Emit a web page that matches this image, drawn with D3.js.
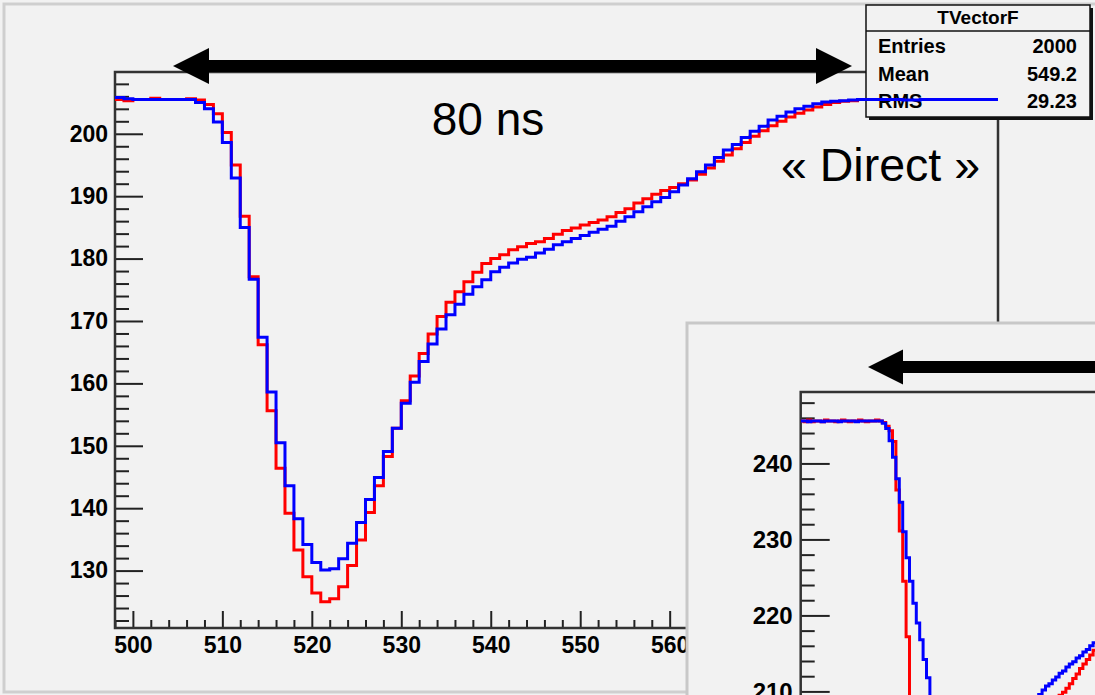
<!DOCTYPE html>
<html>
<head>
<meta charset="utf-8">
<script src="https://cdn.jsdelivr.net/npm/d3@7/dist/d3.min.js"></script>
<style>
  html, body { margin: 0; padding: 0; background: #f2f2f2; }
  svg { display: block; }
  .tick text { font-family: "Liberation Sans", Arial, sans-serif; font-weight: bold; fill: #000; }
</style>
</head>
<body>
<svg id="chart" width="1095" height="695"></svg>
<script>
// ---- main waveform: 1 ns bins, lower edges 498 ... 596 ----
const binStart = 498;
const redCounts = [
  205.5, 205.3, 205.5, 205.5, 205.7, 205.5, 205.5, 205.5, 205.6, 205.4,
  204.7, 203.2, 200.2, 195.0, 186.8, 177.1, 166.2, 155.6, 146.4, 139.2,
  133.3, 129.0, 126.4, 125.0, 125.5, 127.4, 130.8, 134.9, 139.3, 143.6,
  148.3, 152.8, 157.2, 161.2, 164.8, 167.9, 170.7, 173.0, 174.7, 176.3,
  177.8, 179.2, 180.0, 180.6, 181.4, 181.9, 182.4, 182.7, 183.2, 183.9,
  184.5, 184.9, 185.4, 185.8, 186.2, 186.7, 187.4, 188.0, 188.9, 189.6,
  190.3, 190.9, 191.4, 192.0, 192.6, 193.5, 194.5, 195.6, 196.6, 197.6,
  198.6, 199.6, 200.5, 201.3, 202.0, 202.7, 203.3, 203.8, 204.3, 204.7,
  205.0, 205.2, 205.3, 205.5, 205.5, 205.5, 205.5, 205.5, 205.5, 205.5,
  205.5, 205.5, 205.5, 205.5, 205.5, 205.5, 205.5, 205.5, 205.5
];
const blueCounts = [
  205.8, 205.6, 205.5, 205.5, 205.5, 205.5, 205.5, 205.5, 205.5, 205.0,
  204.0, 201.9, 198.6, 192.9, 185.0, 176.7, 167.4, 158.6, 150.5, 143.6,
  138.3, 134.2, 131.3, 130.1, 130.3, 131.9, 134.4, 137.7, 141.4, 144.9,
  149.1, 152.8, 156.8, 160.2, 163.5, 166.3, 168.7, 171.0, 172.7, 174.3,
  175.5, 176.6, 177.9, 178.6, 179.3, 179.9, 180.2, 180.9, 181.5, 182.2,
  182.7, 183.2, 183.7, 184.2, 184.7, 185.2, 186.0, 186.7, 187.5, 188.3,
  189.1, 189.8, 190.7, 191.8, 192.8, 193.9, 195.0, 196.2, 197.4, 198.3,
  199.4, 200.4, 201.2, 202.2, 202.8, 203.5, 204.0, 204.4, 204.8, 205.1,
  205.2, 205.3, 205.4, 205.5, 205.5, 205.5, 205.5, 205.5, 205.4, 205.4,
  205.5, 205.5, 205.5, 205.5, 205.5, 205.5, 205.5, 205.5, 205.5
];
const xTickValues = [500, 510, 520, 530, 540, 550, 560, 570, 580, 590];
const yTickValues = [130, 140, 150, 160, 170, 180, 190, 200];

// ---- statistics box ----
const statsTitle = "TVectorF";
const statsLabels = ["Entries", "Mean", "RMS"];
const statsValues = ["2000", "549.2", "29.23"];

// ---- annotations ----
const spanLabel = "80 ns";
const modeLabel = "« Direct »";

// ---- inset waveform (finer binning, index bins) ----
const insetRed = [
  245.6, 245.5, 245.7, 245.5, 245.6, 245.6, 245.5, 245.7, 245.6, 245.6,
  245.5, 245.6, 245.7, 245.6, 245.5, 245.6, 245.6, 245.7, 245.6, 245.5,
  245.6, 245.6, 245.7, 245.6, 245.4, 244.9, 244.3, 242.9, 236.5, 231.1,
  224.5, 217.2, 205.0, 196.0, 186.0, 177.0, 169.0, 163.0, 158.5, 155.5,
  154.0, 153.5, 154.5, 156.5, 159.5, 163.0, 167.0, 171.0, 175.0, 178.5,
  182.0, 185.0, 188.0, 190.5, 193.0, 195.0, 197.0, 198.6, 200.0, 201.2,
  202.3, 203.2, 204.0, 204.7, 205.3, 205.8, 206.3, 206.7, 207.1, 207.4,
  207.7, 208.0, 208.3, 208.6, 208.9, 209.2, 209.5, 209.9, 210.4, 211.0,
  211.7, 212.3, 213.0, 213.6, 214.2, 214.8, 215.4
];
const insetBlue = [
  245.6, 245.6, 245.5, 245.6, 245.6, 245.6, 245.5, 245.6, 245.6, 245.6,
  245.6, 245.5, 245.6, 245.6, 245.6, 245.6, 245.5, 245.6, 245.6, 245.6,
  245.6, 245.6, 245.6, 245.6, 245.3, 244.6, 243.0, 240.8, 238.0, 234.9,
  231.0, 227.6, 224.5, 221.6, 219.0, 216.8, 214.2, 211.8, 208.9, 205.6,
  202.0, 198.0, 193.0, 188.0, 183.0, 178.5, 175.0, 172.5, 171.0, 170.5,
  171.0, 172.5, 175.0, 178.0, 181.0, 184.0, 186.8, 189.3, 191.6, 193.8,
  195.8, 197.6, 199.3, 200.9, 202.4, 203.8, 205.1, 206.3, 207.5, 208.6,
  209.6, 210.2, 210.7, 211.0, 211.5, 211.9, 212.4, 212.7, 213.2, 213.6,
  213.9, 214.4, 214.7, 215.2, 215.5, 216.0, 216.4
];
const insetYTicks = [210, 220, 230, 240];

const svg = d3.select("#chart");
const W = 1095, H = 695;
const FONT = '"Liberation Sans", Arial, sans-serif';

// canvas
svg.append("rect").attr("x", 0).attr("y", 0).attr("width", W).attr("height", H).attr("fill", "#f2f2f2");
svg.append("rect").attr("x", 4).attr("y", 4).attr("width", W + 10).attr("height", H - 7)
  .attr("fill", "none").attr("stroke", "#cfcfcf").attr("stroke-width", 3);

// ---- main plot ----
const x = d3.scaleLinear().domain([498, 596.7]).range([115, 998]);
const y = d3.scaleLinear().domain([120.8, 209.9]).range([628, 72]);

const plot = svg.append("g");

// minor and major ticks (pointing inward)
const yMinor = d3.range(122, 210, 2).filter(v => v % 10 !== 0);
plot.append("g").attr("transform", `translate(${x.range()[0]},0)`)
  .call(d3.axisLeft(y).tickValues(yMinor).tickSize(-14).tickFormat(""))
  .call(g => g.select(".domain").remove())
  .call(g => g.selectAll("line").attr("stroke", "#222").attr("stroke-width", 2));
plot.append("g").attr("transform", `translate(${x.range()[0]},0)`)
  .call(d3.axisLeft(y).tickValues(yTickValues).tickSize(-28).tickPadding(7).tickFormat(d3.format("d")))
  .call(g => g.select(".domain").remove())
  .call(g => g.selectAll("line").attr("stroke", "#222").attr("stroke-width", 2))
  .call(g => g.selectAll("text").attr("font-size", 23).attr("font-family", FONT).attr("font-weight", "bold"));

const xMinor = d3.range(498, 597, 2).filter(v => v % 10 !== 0);
plot.append("g").attr("transform", `translate(0,${y.range()[0]})`)
  .call(d3.axisBottom(x).tickValues(xMinor).tickSize(-8).tickFormat(""))
  .call(g => g.select(".domain").remove())
  .call(g => g.selectAll("line").attr("stroke", "#222").attr("stroke-width", 2));
plot.append("g").attr("transform", `translate(0,${y.range()[0]})`)
  .call(d3.axisBottom(x).tickValues(xTickValues).tickSize(-17).tickPadding(9).tickFormat(d3.format("d")))
  .call(g => g.select(".domain").remove())
  .call(g => g.selectAll("line").attr("stroke", "#222").attr("stroke-width", 2))
  .call(g => g.selectAll("text").attr("font-size", 23).attr("font-family", FONT).attr("font-weight", "bold"));

// frame
plot.append("rect")
  .attr("x", x.range()[0]).attr("y", y.range()[1])
  .attr("width", x.range()[1] - x.range()[0]).attr("height", y.range()[0] - y.range()[1])
  .attr("fill", "none").attr("stroke", "#333").attr("stroke-width", 2.5);

// histogram step outlines
function stepPoints(counts, start) {
  const pts = counts.map((v, i) => [start + i, v]);
  pts.push([start + counts.length, counts[counts.length - 1]]);
  return pts;
}
const clipId = "mainClip";
svg.append("clipPath").attr("id", clipId).append("rect")
  .attr("x", x.range()[0]).attr("y", y.range()[1])
  .attr("width", x.range()[1] - x.range()[0]).attr("height", y.range()[0] - y.range()[1]);

const mainLine = d3.line().x(d => x(d[0])).y(d => y(d[1])).curve(d3.curveStepAfter);

plot.append("path").datum(stepPoints(redCounts, binStart))
  .attr("clip-path", `url(#${clipId})`)
  .attr("d", mainLine).attr("fill", "none").attr("stroke", "#ff0000").attr("stroke-width", 3);

// ---- double arrow "80 ns" ----
function arrowPath(x0, x1, cy, head, halfHead, halfShaft, both) {
  const p = [];
  p.push([x0, cy]);
  p.push([x0 + head, cy - halfHead]);
  p.push([x0 + head, cy - halfShaft]);
  if (both) {
    p.push([x1 - head, cy - halfShaft]);
    p.push([x1 - head, cy - halfHead]);
    p.push([x1, cy]);
    p.push([x1 - head, cy + halfHead]);
    p.push([x1 - head, cy + halfShaft]);
  } else {
    p.push([x1, cy - halfShaft]);
    p.push([x1, cy + halfShaft]);
  }
  p.push([x0 + head, cy + halfShaft]);
  p.push([x0 + head, cy + halfHead]);
  return "M" + p.map(q => q.join(",")).join("L") + "Z";
}
svg.append("path").attr("d", arrowPath(173, 852, 66, 36, 18, 6, true)).attr("fill", "#000");

svg.append("text").attr("x", 488).attr("y", 135).attr("text-anchor", "middle")
  .attr("font-family", FONT).attr("font-size", 46).attr("fill", "#000").text(spanLabel);

// ---- statistics box ----
const sb = svg.append("g");
const sbX = 866, sbY = 5, sbW = 224, sbH = 112;
sb.append("rect").attr("x", sbX + 3).attr("y", sbY + 3).attr("width", sbW).attr("height", sbH).attr("fill", "#111");
sb.append("rect").attr("x", sbX).attr("y", sbY).attr("width", sbW).attr("height", sbH)
  .attr("fill", "#f2f2f2").attr("stroke", "#111").attr("stroke-width", 1.5);
sb.append("line").attr("x1", sbX).attr("x2", sbX + sbW).attr("y1", 31).attr("y2", 31)
  .attr("stroke", "#111").attr("stroke-width", 1.5);
sb.append("text").attr("x", sbX + sbW / 2).attr("y", 24).attr("text-anchor", "middle")
  .attr("font-family", FONT).attr("font-weight", "bold").attr("font-size", 19).text(statsTitle);
statsLabels.forEach((lab, i) => {
  const yy = 53 + i * 27.5;
  sb.append("text").attr("x", sbX + 12).attr("y", yy).attr("font-family", FONT)
    .attr("font-weight", "bold").attr("font-size", 20).text(lab);
  sb.append("text").attr("x", sbX + sbW - 13).attr("y", yy).attr("text-anchor", "end")
    .attr("font-family", FONT).attr("font-weight", "bold").attr("font-size", 20).text(statsValues[i]);
});

// blue outline sits above the statistics box
svg.append("path").datum(stepPoints(blueCounts, binStart))
  .attr("clip-path", `url(#${clipId})`)
  .attr("d", mainLine).attr("fill", "none").attr("stroke", "#0000ff").attr("stroke-width", 3);

svg.append("text").attr("x", 781).attr("y", 181)
  .attr("font-family", FONT).attr("font-size", 46.5).attr("fill", "#000").text(modeLabel);

// ---- inset pad ----
const inset = svg.append("g");
inset.append("rect").attr("x", 687).attr("y", 323).attr("width", 420).attr("height", 400)
  .attr("fill", "#f2f2f2").attr("stroke", "#c8c8c8").attr("stroke-width", 3);

inset.append("path").attr("d", arrowPath(868, 1110, 367, 35, 17.5, 6, false)).attr("fill", "#000");

const ix = d3.scaleLinear().domain([0, insetRed.length]).range([800.7, 800.7 + insetRed.length * 3.4]);
const iy = d3.scaleLinear().domain([200, 249.4]).range([767.4, 392]);

const iyMinor = d3.range(202, 250, 2).filter(v => v % 10 !== 0);
inset.append("g").attr("transform", `translate(${ix.range()[0]},0)`)
  .call(d3.axisLeft(iy).tickValues(iyMinor).tickSize(-14).tickFormat(""))
  .call(g => g.select(".domain").remove())
  .call(g => g.selectAll("line").attr("stroke", "#222").attr("stroke-width", 2));
inset.append("g").attr("transform", `translate(${ix.range()[0]},0)`)
  .call(d3.axisLeft(iy).tickValues(insetYTicks).tickSize(-29).tickPadding(8).tickFormat(d3.format("d")))
  .call(g => g.select(".domain").remove())
  .call(g => g.selectAll("line").attr("stroke", "#222").attr("stroke-width", 2))
  .call(g => g.selectAll("text").attr("font-size", 24).attr("font-family", FONT).attr("font-weight", "bold"));

inset.append("path").attr("d", `M${ix.range()[0]},${H + 10}V${iy.range()[1]}H${W + 10}`)
  .attr("fill", "none").attr("stroke", "#333").attr("stroke-width", 2.5);

svg.append("clipPath").attr("id", "insetClip").append("rect")
  .attr("x", ix.range()[0]).attr("y", iy.range()[1]).attr("width", 400).attr("height", 400);
const insetLine = d3.line().x(d => ix(d[0])).y(d => iy(d[1])).curve(d3.curveStepAfter);
inset.append("path").datum(stepPoints(insetRed, 0)).attr("clip-path", "url(#insetClip)")
  .attr("d", insetLine).attr("fill", "none").attr("stroke", "#ff0000").attr("stroke-width", 3);
inset.append("path").datum(stepPoints(insetBlue, 0)).attr("clip-path", "url(#insetClip)")
  .attr("d", insetLine).attr("fill", "none").attr("stroke", "#0000ff").attr("stroke-width", 3);
</script>
</body>
</html>
